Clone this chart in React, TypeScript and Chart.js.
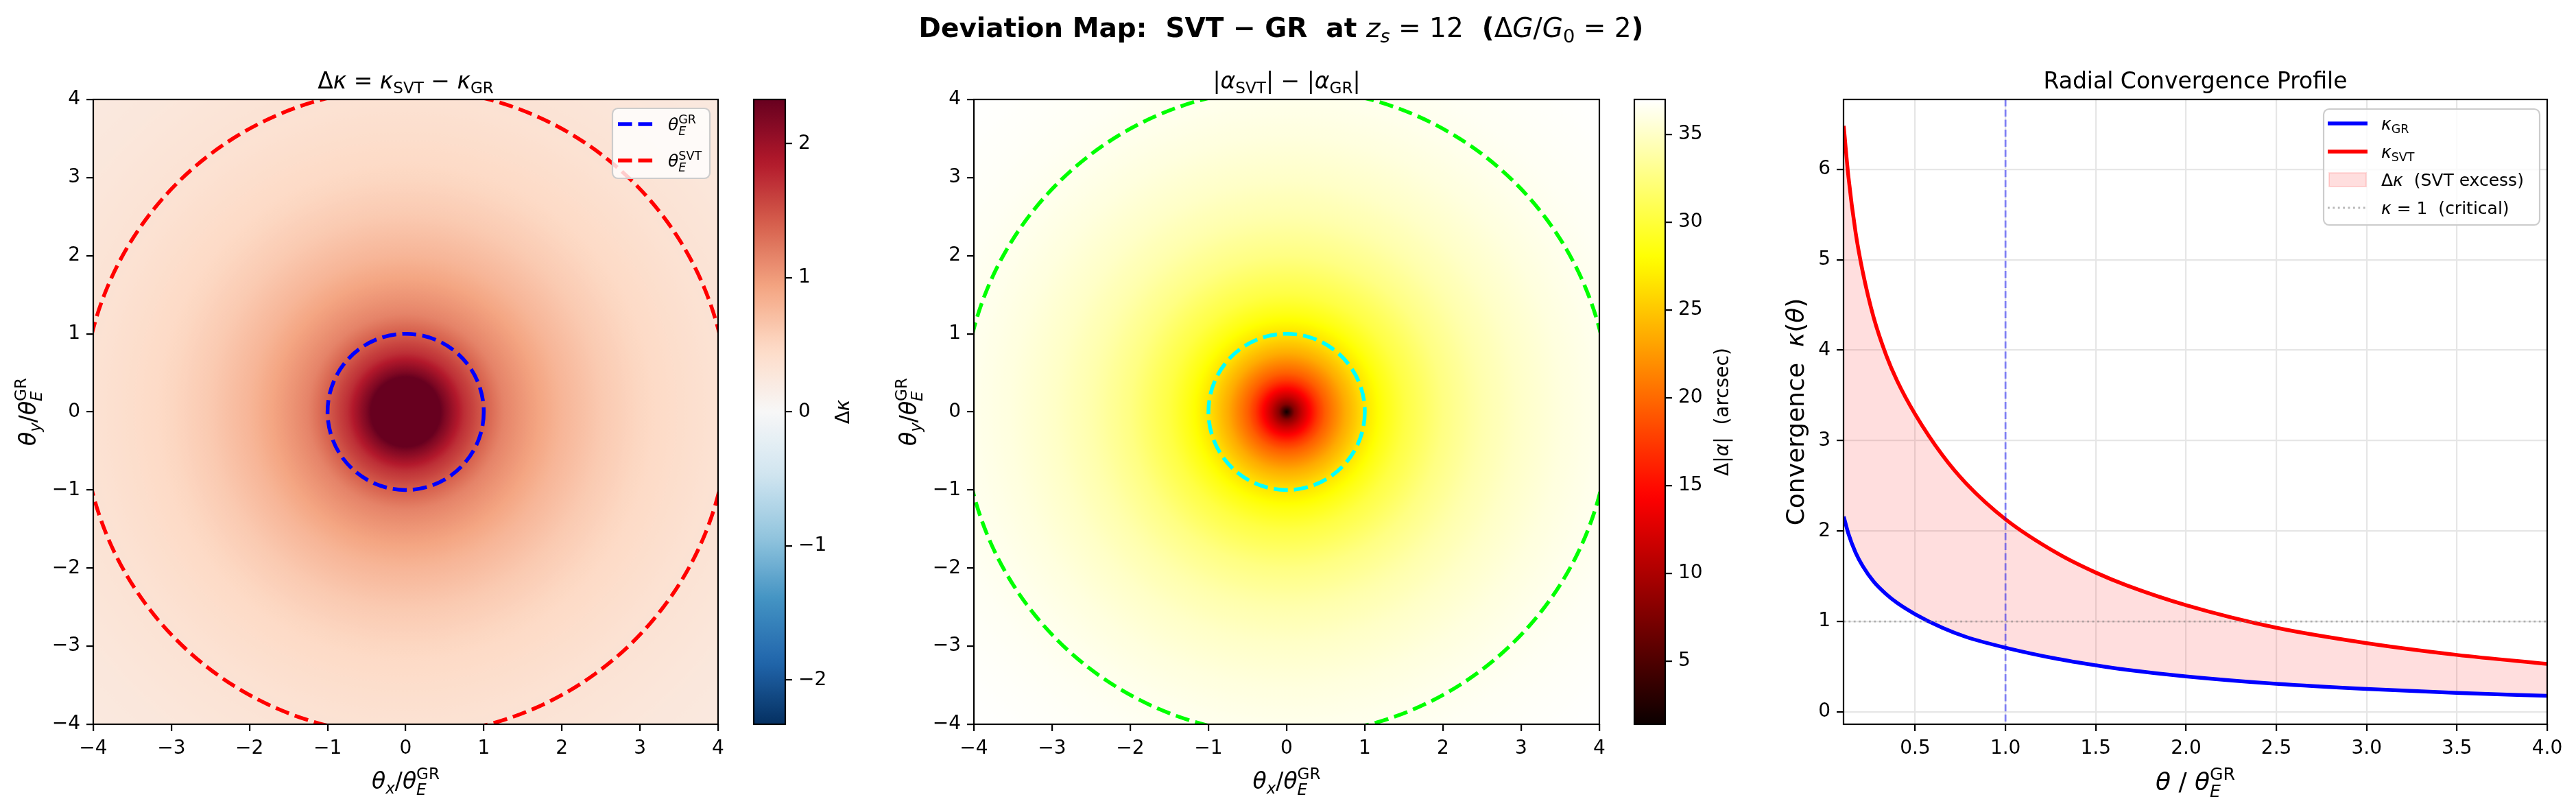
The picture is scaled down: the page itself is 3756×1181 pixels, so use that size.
import React, { useEffect, useRef } from "react";
import { Chart, registerables } from "chart.js";

Chart.register(...registerables);

const FONT = '"DejaVu Sans"';
const W = 3756;
const H = 1181;

// ---------------- data ----------------
const thetaValues = [0.104, 0.13, 0.17, 0.21, 0.27, 0.34, 0.4, 0.5, 0.65, 0.78, 1.0, 1.29, 1.5, 1.67, 2.0, 2.5, 3.0, 3.5, 4.0];
const kappaGR = [2.16, 1.97, 1.76, 1.61, 1.44, 1.3, 1.205, 1.08, 0.93, 0.83, 0.71, 0.585, 0.515, 0.466, 0.392, 0.31, 0.253, 0.21, 0.177];
const kappaSVT = [6.48, 5.92, 5.3, 4.86, 4.36, 3.94, 3.66, 3.29, 2.84, 2.53, 2.13, 1.75, 1.54, 1.4, 1.18, 0.93, 0.76, 0.63, 0.53];

const mapRadius = [0, 0.1, 0.2, 0.3, 0.4, 0.5, 0.75, 1.0, 1.25, 1.5, 2.0, 2.5, 3.0, 3.5, 4.0, 4.5, 5.0, 5.7];
const deltaKappaMap = [4.6, 4.3, 3.3, 2.75, 2.45, 2.2, 1.72, 1.42, 1.16, 1.03, 0.79, 0.62, 0.5, 0.42, 0.35, 0.31, 0.27, 0.23];
const deltaAlphaMap = [1.4, 8.0, 11.5, 14.5, 17.3, 19.5, 23.5, 26.5, 28.6, 30.3, 32.6, 34.1, 35.1, 35.8, 36.3, 36.6, 36.8, 37.0];

const deltaKappaRange = [-2.33, 2.33];
const deltaAlphaRange = [1.4, 37.0];
const thetaE_GR = 1.0;
const thetaE_SVT = 4.14;
const criticalKappa = 1;

const mapTicks = [-4, -3, -2, -1, 0, 1, 2, 3, 4];
const deltaKappaTicks = [-2, -1, 0, 1, 2];
const deltaAlphaTicks = [5, 10, 15, 20, 25, 30, 35];
const thetaTicks = [0.5, 1.0, 1.5, 2.0, 2.5, 3.0, 3.5, 4.0];
const kappaTicks = [0, 1, 2, 3, 4, 5, 6];
const thetaRange = [0.103, 4.0];
const kappaRange = [-0.137, 6.772];

// ---------------- layout ----------------
const P1 = { l: 136, r: 1047, t: 145, b: 1056 };
const CB1 = { l: 1099, r: 1145, t: 145, b: 1056 };
const P2 = { l: 1420, r: 2332, t: 145, b: 1056 };
const CB2 = { l: 2383, r: 2428, t: 145, b: 1056 };
const P3 = { l: 2688, r: 3714, t: 145, b: 1056 };
const YW = 150;
const XH = 110;

// ---------------- colormaps ----------------
const RDBU_R = ["#053061", "#2166ac", "#4393c3", "#92c5de", "#d1e5f0", "#f7f7f7", "#fddbc7", "#f4a582", "#d6604d", "#b2182b", "#67001f"];
function hexRgb(h: string): number[] {
  return [parseInt(h.slice(1, 3), 16), parseInt(h.slice(3, 5), 16), parseInt(h.slice(5, 7), 16)];
}
const RDBU_RGB = RDBU_R.map(hexRgb);
function cmapRdBuR(t: number): number[] {
  t = Math.max(0, Math.min(1, t));
  const p = t * 10;
  const i = Math.min(9, Math.floor(p));
  const f = p - i;
  const a = RDBU_RGB[i], b = RDBU_RGB[i + 1];
  return [a[0] + (b[0] - a[0]) * f, a[1] + (b[1] - a[1]) * f, a[2] + (b[2] - a[2]) * f];
}
function cmapHot(t: number): number[] {
  t = Math.max(0, Math.min(1, t));
  const r = t < 0.365079 ? 0.0416 + (t / 0.365079) * (1 - 0.0416) : 1;
  const g = t < 0.365079 ? 0 : t < 0.746032 ? (t - 0.365079) / (0.746032 - 0.365079) : 1;
  const b = t < 0.746032 ? 0 : (t - 0.746032) / (1 - 0.746032);
  return [r * 255, g * 255, b * 255];
}
function rgbStr(c: number[]) {
  return `rgb(${Math.round(c[0])},${Math.round(c[1])},${Math.round(c[2])})`;
}

// ---------------- rich text ----------------
type Run = { t?: string; i?: boolean; b?: boolean; sub?: string; subI?: boolean; sup?: string; supI?: boolean };
const SS = 0.7;
function fnt(size: number, it?: boolean, bold?: boolean) {
  return `${it ? "italic " : ""}${bold ? "bold " : ""}${size}px ${FONT}`;
}
function measureRuns(ctx: CanvasRenderingContext2D, runs: Run[], size: number) {
  let w = 0;
  for (const r of runs) {
    if (r.t) {
      ctx.font = fnt(size, r.i, r.b);
      w += ctx.measureText(r.t).width;
    }
    let sw = 0;
    if (r.sub) {
      ctx.font = fnt(size * SS, r.subI, false);
      sw = Math.max(sw, ctx.measureText(r.sub).width);
    }
    if (r.sup) {
      ctx.font = fnt(size * SS, r.supI, false);
      sw = Math.max(sw, ctx.measureText(r.sup).width);
    }
    w += sw;
  }
  return w;
}
function drawRuns(ctx: CanvasRenderingContext2D, runs: Run[], x: number, y: number, size: number, align = "center", rot = 0, color = "#000") {
  const w = measureRuns(ctx, runs, size);
  ctx.save();
  ctx.translate(x, y);
  ctx.rotate(rot);
  ctx.fillStyle = color;
  ctx.textBaseline = "alphabetic";
  ctx.textAlign = "left";
  let cx = align === "center" ? -w / 2 : align === "right" ? -w : 0;
  for (const r of runs) {
    if (r.t) {
      ctx.font = fnt(size, r.i, r.b);
      ctx.fillText(r.t, cx, 0);
      cx += ctx.measureText(r.t).width;
    }
    let sw = 0;
    if (r.sub) {
      ctx.font = fnt(size * SS, r.subI, false);
      ctx.fillText(r.sub, cx, (r.sup ? 0.27 : 0.2) * size);
      sw = Math.max(sw, ctx.measureText(r.sub).width);
    }
    if (r.sup) {
      ctx.font = fnt(size * SS, r.supI, false);
      ctx.fillText(r.sup, cx, -0.42 * size);
      sw = Math.max(sw, ctx.measureText(r.sup).width);
    }
    cx += sw;
  }
  ctx.restore();
}

// ---------------- texts ----------------
const SUPTITLE: Run[] = [
  { t: "Deviation Map:  SVT − GR  at ", b: true },
  { t: "z", i: true, sub: "s", subI: true },
  { t: " = 12" },
  { t: "  (", b: true },
  { t: "Δ" },
  { t: "G", i: true },
  { t: "/" },
  { t: "G", i: true, sub: "0" },
  { t: " = 2" },
  { t: ")", b: true },
];
const TITLE1: Run[] = [{ t: "Δ" }, { t: "κ", i: true }, { t: " = " }, { t: "κ", i: true, sub: "SVT" }, { t: " − " }, { t: "κ", i: true, sub: "GR" }];
const TITLE2: Run[] = [{ t: "|" }, { t: "α", i: true, sub: "SVT" }, { t: "| − |" }, { t: "α", i: true, sub: "GR" }, { t: "|" }];
const TITLE3: Run[] = [{ t: "Radial Convergence Profile" }];
const XLAB: Run[] = [{ t: "θ", i: true, sub: "x", subI: true }, { t: "/" }, { t: "θ", i: true, sub: "E", subI: true, sup: "GR" }];
const YLAB: Run[] = [{ t: "θ", i: true, sub: "y", subI: true }, { t: "/" }, { t: "θ", i: true, sub: "E", subI: true, sup: "GR" }];
const XLAB3: Run[] = [{ t: "θ", i: true }, { t: " / " }, { t: "θ", i: true, sub: "E", subI: true, sup: "GR" }];
const YLAB3: Run[] = [{ t: "Convergence  " }, { t: "κ", i: true }, { t: "(" }, { t: "θ", i: true }, { t: ")" }];
const CBLAB1: Run[] = [{ t: "Δ" }, { t: "κ", i: true }];
const CBLAB2: Run[] = [{ t: "Δ|" }, { t: "α", i: true }, { t: "|  (arcsec)" }];
const LEG_GR: Run[] = [{ t: "θ", i: true, sub: "E", subI: true, sup: "GR" }];
const LEG_SVT: Run[] = [{ t: "θ", i: true, sub: "E", subI: true, sup: "SVT" }];
const LEG3: Run[][] = [
  [{ t: "κ", i: true, sub: "GR" }],
  [{ t: "κ", i: true, sub: "SVT" }],
  [{ t: "Δ" }, { t: "κ", i: true }, { t: "  (SVT excess)" }],
  [{ t: "κ", i: true }, { t: " = 1" }, { t: "  (critical)" }],
];

// ---------------- helpers ----------------
const minus = (s: string) => s.replace("-", "−");

function axis(min: number, max: number, ticks: number[], isY: boolean, fmt: (v: number) => string, gridOn = false, position?: string) {
  const cfg: any = {
    type: "linear",
    min,
    max,
    afterBuildTicks: (s: any) => {
      s.ticks = ticks.map((v) => ({ value: v }));
    },
    afterFit: (s: any) => {
      if (isY) s.width = YW;
      else s.height = XH;
    },
    ticks: {
      font: { family: "DejaVu Sans", size: 28 },
      color: "#000",
      padding: 9,
      autoSkip: false,
      maxRotation: 0,
      minRotation: 0,
      callback: (v: any) => fmt(Number(v)),
    },
    grid: {
      display: true,
      drawOnChartArea: gridOn,
      color: "#e6e6e6",
      lineWidth: 2.2,
      drawTicks: true,
      tickLength: 10,
      tickWidth: 2.2,
      tickColor: "#000",
    },
    border: { display: false },
  };
  if (position) cfg.position = position;
  return cfg;
}

function spines(ctx: CanvasRenderingContext2D, a: any) {
  ctx.save();
  ctx.strokeStyle = "#000";
  ctx.lineWidth = 2.2;
  ctx.strokeRect(a.left, a.top, a.right - a.left, a.bottom - a.top);
  ctx.restore();
}

function legendBox(ctx: CanvasRenderingContext2D, x0: number, y0: number, x1: number, y1: number) {
  ctx.save();
  ctx.beginPath();
  (ctx as any).roundRect(x0, y0, x1 - x0, y1 - y0, 8);
  ctx.fillStyle = "rgba(255,255,255,0.8)";
  ctx.fill();
  ctx.strokeStyle = "#cccccc";
  ctx.lineWidth = 2.2;
  ctx.stroke();
  ctx.restore();
}

function heatPlugin(id: string, radius: number[], values: number[], range: number[], cmap: (t: number) => number[], circles: { r: number; color: string }[], extra: (ctx: CanvasRenderingContext2D) => void) {
  return {
    id,
    beforeDatasetsDraw(chart: any) {
      const { ctx, chartArea: a, scales } = chart;
      const x = scales.x, y = scales.y;
      const cx = x.getPixelForValue(0), cy = y.getPixelForValue(0);
      const sx = x.getPixelForValue(1) - cx;
      const sy = cy - y.getPixelForValue(1);
      const rMax = radius[radius.length - 1];
      ctx.save();
      ctx.beginPath();
      ctx.rect(a.left, a.top, a.right - a.left, a.bottom - a.top);
      ctx.clip();
      ctx.translate(cx, cy);
      ctx.scale(sx, sy);
      const g = ctx.createRadialGradient(0, 0, 0, 0, 0, rMax);
      const sub = 10;
      for (let i = 0; i < radius.length; i++) {
        const last = i === radius.length - 1;
        const steps = last ? 1 : sub;
        for (let k = 0; k < steps; k++) {
          const f = k / steps;
          const r = last ? radius[i] : radius[i] + f * (radius[i + 1] - radius[i]);
          const v = last ? values[i] : values[i] + f * (values[i + 1] - values[i]);
          const t = (v - range[0]) / (range[1] - range[0]);
          g.addColorStop(Math.min(1, r / rMax), rgbStr(cmap(t)));
        }
      }
      ctx.fillStyle = g;
      ctx.fillRect(-10, -10, 20, 20);
      ctx.restore();

      ctx.save();
      ctx.beginPath();
      ctx.rect(a.left, a.top, a.right - a.left, a.bottom - a.top);
      ctx.clip();
      ctx.setLineDash([20.6, 8.9]);
      ctx.lineWidth = 5.5;
      for (const c of circles) {
        ctx.strokeStyle = c.color;
        ctx.beginPath();
        ctx.ellipse(cx, cy, c.r * sx, c.r * sy, 0, 0, Math.PI * 2);
        ctx.stroke();
      }
      ctx.restore();
    },
    afterDraw(chart: any) {
      spines(chart.ctx, chart.chartArea);
      extra(chart.ctx);
    },
  };
}

function cbPlugin(id: string, cmap: (t: number) => number[], extra: (ctx: CanvasRenderingContext2D) => void) {
  return {
    id,
    beforeDatasetsDraw(chart: any) {
      const { ctx, chartArea: a } = chart;
      const g = ctx.createLinearGradient(0, a.bottom, 0, a.top);
      for (let k = 0; k <= 64; k++) g.addColorStop(k / 64, rgbStr(cmap(k / 64)));
      ctx.save();
      ctx.fillStyle = g;
      ctx.fillRect(a.left, a.top, a.right - a.left, a.bottom - a.top);
      ctx.restore();
    },
    afterDraw(chart: any) {
      spines(chart.ctx, chart.chartArea);
      extra(chart.ctx);
    },
  };
}

function baseOptions(pad: any) {
  return {
    responsive: false,
    maintainAspectRatio: false,
    animation: false,
    devicePixelRatio: 1,
    events: [],
    layout: { padding: pad },
    plugins: { legend: { display: false }, tooltip: { enabled: false }, title: { display: false } },
  };
}

function heatConfig(box: any, radius: number[], values: number[], range: number[], cmap: any, circles: any[], extra: any, id: string) {
  return {
    type: "scatter",
    data: { datasets: [{ data: [] as any[] }] },
    options: {
      ...baseOptions({ left: box.l - YW, right: W - box.r, top: box.t, bottom: H - box.b - XH }),
      scales: {
        x: axis(mapTicks[0], mapTicks[mapTicks.length - 1], mapTicks, false, (v) => minus(String(v))),
        y: axis(mapTicks[0], mapTicks[mapTicks.length - 1], mapTicks, true, (v) => minus(String(v))),
      },
    },
    plugins: [heatPlugin(id, radius, values, range, cmap, circles, extra)],
  };
}

function cbConfig(box: any, range: number[], ticks: number[], cmap: any, extra: any, id: string) {
  return {
    type: "scatter",
    data: { datasets: [{ data: [] as any[] }] },
    options: {
      ...baseOptions({ left: box.l, right: W - box.r - YW, top: box.t, bottom: H - box.b }),
      scales: {
        x: { type: "linear", display: false, min: 0, max: 1 },
        y: axis(range[0], range[1], ticks, true, (v) => minus(String(v)), false, "right"),
      },
    },
    plugins: [cbPlugin(id, cmap, extra)],
  };
}

function profileConfig() {
  const grPts = thetaValues.map((x, i) => ({ x, y: kappaGR[i] }));
  const svtPts = thetaValues.map((x, i) => ({ x, y: kappaSVT[i] }));
  const refLines = {
    id: "refLines",
    afterDatasetsDraw(chart: any) {
      const { ctx, chartArea: a, scales } = chart;
      ctx.save();
      ctx.beginPath();
      ctx.rect(a.left, a.top, a.right - a.left, a.bottom - a.top);
      ctx.clip();
      const yk = scales.y.getPixelForValue(criticalKappa);
      ctx.strokeStyle = "rgba(128,128,128,0.55)";
      ctx.lineWidth = 2.8;
      ctx.setLineDash([2.8, 4.6]);
      ctx.beginPath();
      ctx.moveTo(a.left, yk);
      ctx.lineTo(a.right, yk);
      ctx.stroke();
      const xe = scales.x.getPixelForValue(thetaE_GR);
      ctx.strokeStyle = "rgba(0,0,255,0.45)";
      ctx.lineWidth = 2.8;
      ctx.setLineDash([10.3, 4.4]);
      ctx.beginPath();
      ctx.moveTo(xe, a.top);
      ctx.lineTo(xe, a.bottom);
      ctx.stroke();
      ctx.restore();
    },
    afterDraw(chart: any) {
      const ctx = chart.ctx as CanvasRenderingContext2D;
      spines(ctx, chart.chartArea);
      // legend
      legendBox(ctx, 3388, 159, 3703, 328);
      const rowsY = [180, 221, 262, 303];
      const hx0 = 3394, hx1 = 3452;
      ctx.save();
      ctx.lineCap = "butt";
      ctx.lineWidth = 5.5;
      ctx.strokeStyle = "#0000ff";
      ctx.beginPath(); ctx.moveTo(hx0, rowsY[0]); ctx.lineTo(hx1, rowsY[0]); ctx.stroke();
      ctx.strokeStyle = "#ff0000";
      ctx.beginPath(); ctx.moveTo(hx0, rowsY[1]); ctx.lineTo(hx1, rowsY[1]); ctx.stroke();
      ctx.fillStyle = "rgba(255,0,0,0.13)";
      ctx.fillRect(hx0 + 2, rowsY[2] - 10, hx1 - hx0 - 4, 20);
      ctx.strokeStyle = "rgba(255,0,0,0.13)";
      ctx.lineWidth = 2;
      ctx.strokeRect(hx0 + 2, rowsY[2] - 10, hx1 - hx0 - 4, 20);
      ctx.strokeStyle = "rgba(128,128,128,0.55)";
      ctx.lineWidth = 2.8;
      ctx.setLineDash([2.8, 4.6]);
      ctx.beginPath(); ctx.moveTo(hx0, rowsY[3]); ctx.lineTo(hx1, rowsY[3]); ctx.stroke();
      ctx.restore();
      LEG3.forEach((runs, i) => drawRuns(ctx, runs, 3472, rowsY[i] + 9, 25, "left"));
      // texts
      drawRuns(ctx, TITLE3, (P3.l + P3.r) / 2, 129, 33);
      drawRuns(ctx, XLAB3, (P3.l + P3.r) / 2, 1152, 36);
      drawRuns(ctx, YLAB3, 2630, (P3.t + P3.b) / 2, 36, "center", -Math.PI / 2);
      drawRuns(ctx, SUPTITLE, 1868, 54, 39);
    },
  };
  return {
    type: "line",
    data: {
      datasets: [
        { data: grPts, borderColor: "#0000ff", borderWidth: 5.5, pointRadius: 0, cubicInterpolationMode: "monotone", fill: false },
        { data: svtPts, borderColor: "#ff0000", borderWidth: 5.5, pointRadius: 0, cubicInterpolationMode: "monotone", fill: "-1", backgroundColor: "rgba(255,0,0,0.13)" },
      ],
    },
    options: {
      ...baseOptions({ left: P3.l - YW, right: W - P3.r, top: P3.t, bottom: H - P3.b - XH }),
      scales: {
        x: axis(thetaRange[0], thetaRange[1], thetaTicks, false, (v) => v.toFixed(1), true),
        y: axis(kappaRange[0], kappaRange[1], kappaTicks, true, (v) => String(v), true),
      },
    },
    plugins: [refLines],
  };
}

export default function App() {
  const r1 = useRef<HTMLCanvasElement>(null);
  const r2 = useRef<HTMLCanvasElement>(null);
  const r3 = useRef<HTMLCanvasElement>(null);
  const r4 = useRef<HTMLCanvasElement>(null);
  const r5 = useRef<HTMLCanvasElement>(null);
  const refs = [r1, r2, r3, r4, r5];

  useEffect(() => {
    const extra1 = (ctx: CanvasRenderingContext2D) => {
      legendBox(ctx, 893, 158, 1035, 260);
      ctx.save();
      ctx.lineWidth = 5.5;
      ctx.setLineDash([20.6, 8.9]);
      ctx.strokeStyle = "#0000ff";
      ctx.beginPath(); ctx.moveTo(901, 181); ctx.lineTo(953, 181); ctx.stroke();
      ctx.strokeStyle = "#ff0000";
      ctx.beginPath(); ctx.moveTo(901, 234); ctx.lineTo(953, 234); ctx.stroke();
      ctx.restore();
      drawRuns(ctx, LEG_GR, 974, 190, 25, "left");
      drawRuns(ctx, LEG_SVT, 974, 243, 25, "left");
      drawRuns(ctx, TITLE1, (P1.l + P1.r) / 2, 129, 33);
      drawRuns(ctx, XLAB, (P1.l + P1.r) / 2, 1150, 33);
      drawRuns(ctx, YLAB, 52, (P1.t + P1.b) / 2, 33, "center", -Math.PI / 2);
    };
    const extra2 = (ctx: CanvasRenderingContext2D) => {
      drawRuns(ctx, TITLE2, (P2.l + P2.r) / 2, 129, 33);
      drawRuns(ctx, XLAB, (P2.l + P2.r) / 2, 1150, 33);
      drawRuns(ctx, YLAB, 1336, (P2.t + P2.b) / 2, 33, "center", -Math.PI / 2);
    };
    const extraCb1 = (ctx: CanvasRenderingContext2D) => {
      drawRuns(ctx, CBLAB1, 1238, (CB1.t + CB1.b) / 2, 28, "center", -Math.PI / 2);
    };
    const extraCb2 = (ctx: CanvasRenderingContext2D) => {
      drawRuns(ctx, CBLAB2, 2520, (CB2.t + CB2.b) / 2, 28, "center", -Math.PI / 2);
    };
    const cfgs: any[] = [
      heatConfig(P1, mapRadius, deltaKappaMap, deltaKappaRange, cmapRdBuR, [
        { r: thetaE_GR, color: "#0000ff" },
        { r: thetaE_SVT, color: "#ff0000" },
      ], extra1, "heat1"),
      cbConfig(CB1, deltaKappaRange, deltaKappaTicks, cmapRdBuR, extraCb1, "cb1"),
      heatConfig(P2, mapRadius, deltaAlphaMap, deltaAlphaRange, cmapHot, [
        { r: thetaE_GR, color: "#00ffff" },
        { r: thetaE_SVT, color: "#00ff00" },
      ], extra2, "heat2"),
      cbConfig(CB2, deltaAlphaRange, deltaAlphaTicks, cmapHot, extraCb2, "cb2"),
      profileConfig(),
    ];
    const charts = cfgs.map((c, i) => new Chart(refs[i].current as HTMLCanvasElement, c));
    return () => charts.forEach((c) => c.destroy());
  }, []);

  return (
    <div style={{ position: "absolute", left: 0, top: 0, width: W, height: H, background: "#fff", overflow: "hidden" }}>
      {refs.map((r, i) => (
        <canvas key={i} ref={r} width={W} height={H} style={{ position: "absolute", left: 0, top: 0, width: W, height: H }} />
      ))}
    </div>
  );
}
